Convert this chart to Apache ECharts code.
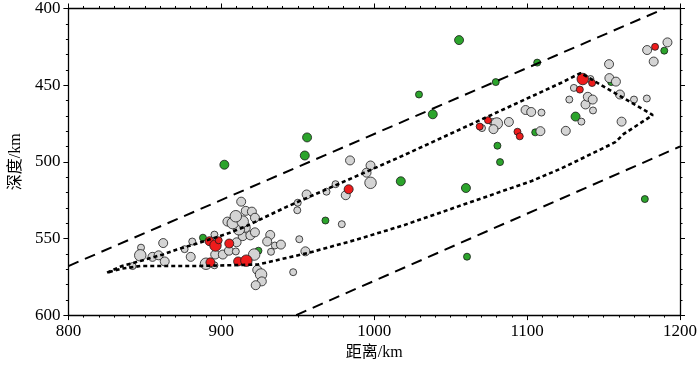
<!DOCTYPE html>
<html><head><meta charset="utf-8">
<script src="https://cdn.jsdelivr.net/npm/echarts@6/dist/echarts.min.js"></script>
<style>html,body{margin:0;padding:0;background:#fff}#c{width:700px;height:366px}</style>
</head><body><div id="c"></div>
<script>
// [distance km, depth km, size class 1..3]
var grayPts = [
[842,568,1],[847.5,556,1],[847,561,3],[855,562,2],[859,561,2],[862,553,2],[863,565,2],
[876,557,1],[881,552,1],[880,562,2],[890,566.5,3],[895.5,567.5,1],[896,560.5,2],[901,560.5,2],
[905,558,2],[909.5,558.5,1],[910,552.5,2],[914,548.5,2],[919,548,2],[922,546,2],[916,543,2],
[911.5,544,3],[895.5,547.5,1],[904,539,2],[907.5,540,3],[914,539,3],[909.5,535.5,3],
[913,526,2],[916,532,2],[920,532.5,2],[922,536.5,2],
[921.5,560.5,3],[923.5,570.5,2],[926,573.5,3],[926.5,578,2],[922.5,580.5,2],
[932,547.7,2],[930,552,2],[935,554.6,1],[939,554,2],[932.5,558.7,1],[955,558.4,2],[951,550.5,1],
[947,572,1],[955.8,521.3,2],[950,526.7,1],[949.7,531.6,1],[968.8,519.5,1],[974.7,514.6,1],
[978.8,540.7,1],[981.4,521.8,2],[984.2,499.1,2],[997.6,502.4,2],[995,507.1,2],[997.6,513.7,3],
[1070.5,478,1],[1077.4,474,1],[1080.2,475,3],[1078,478.7,2],[1088.1,474,2],[1099,466.2,2],
[1102.7,467.5,2],[1109.4,467.9,1],[1108.7,480,2],[1125.3,479.8,2],[1127.6,459.4,1],[1130.6,451.8,1],
[1135.5,473.8,1],[1138.2,462.6,2],[1139.7,457.6,2],[1142.9,459.4,2],[1143.1,466.5,1],[1141.4,446,1],
[1153.6,436.3,2],[1153.8,445.4,2],[1158.1,447.7,2],[1160.7,456.1,2],[1161.8,473.8,2],[1169.9,459.4,1],
[1178.3,458.7,1],[1178.5,427.1,2],[1182.8,434.6,2],[1191.8,422.1,2]
];
var redPts = [
[892.3,551.8,2],[896.2,554.6,3],[898.3,551.2,1],[905.2,553.3,2],[892.9,565.6,2],[911,565,2],
[916.4,564.5,3],[983.3,517.9,2],[1069,477,1],[1074.4,472.9,1],[1093.7,480.4,1],[1095.2,483.4,1],
[1134.5,452.9,1],[1136.4,446,3],[1142.5,448.6,1],[1183.7,425,1]
];
var greenPts = [
[888,549.5,1],[924.3,558,1],[968.1,538.3,1],[902,501.9,2],[954.6,495.9,2],[956.1,484.1,2],
[1017.4,512.7,2],[1029.3,456.1,1],[1038.3,469,2],[1055.5,420.6,2],[1060,517.1,2],[1060.7,561.9,1],
[1079.5,448,1],[1080.6,489.5,1],[1082.3,500.2,1],[1105.3,480.8,1],[1106.6,435.3,1],[1131.7,470.5,2],
[1155,448,1],[1177,524.3,1],[1189.7,427.5,1]
];
var upperDashed = [[800,568],[1190,400]];
var lowerDashed = [[949,600],[1200,490]];
var dottedOutline = [
[825.3,572.3],[835,568],[847,564.7],[862,560.4],[871,557.2],[882,554],[905,546.5],[916,542.1],
[942,529.7],[1019,495.9],[1122,448.6],[1135,442.1],[1182.2,469.5],[1163,482],[1158,487],
[1150,491],[1122,504.5],[1103,512.5],[1090,517],[1019,541.5],[987,551.2],[957,559.4],[924,567],
[884,568],[847,568],[835,569.7],[825.3,572.3]
];
var xTicks = [800, 900, 1000, 1100, 1200];
var yTicks = [400, 450, 500, 550, 600];

var FONT = '"Liberation Serif","Noto Sans CJK SC",serif';
var sizeMap = {1: 7, 2: 9, 3: 11.5};
function sz(v){ return sizeMap[v[2]]; }
function axisBase(extra){
  var a = {
    axisLine:{show:true,onZero:false,lineStyle:{color:'#000',width:1.3}},
    axisTick:{show:true,inside:false,length:5,lineStyle:{color:'#000',width:1}},
    minorTick:{show:true,length:2.5,lineStyle:{color:'#000',width:1}},
    splitLine:{show:false},
    axisLabel:{color:'#000',fontFamily:FONT,fontSize:17,margin:8,formatter:function(v){return String(v);}}
  };
  for (var k in extra) a[k]=extra[k];
  return a;
}
var xb = axisBase({type:'value',position:'bottom',min:xTicks[0],max:xTicks[xTicks.length-1],interval:100,
  name:'距离/km',nameLocation:'middle',nameGap:27,nameTextStyle:{color:'#000',fontFamily:FONT,fontSize:16}});
xb.minorTick.splitNumber = 10;
var xt = axisBase({type:'value',position:'top',min:800,max:1200,interval:100});
xt.minorTick.splitNumber = 10; xt.axisLabel = {show:false};
var yl = axisBase({type:'value',position:'left',inverse:true,min:yTicks[0],max:yTicks[yTicks.length-1],interval:50,
  name:'深度/km',nameLocation:'middle',nameGap:40,nameTextStyle:{color:'#000',fontFamily:FONT,fontSize:16}});
yl.minorTick.splitNumber = 5;
var yr = axisBase({type:'value',position:'right',inverse:true,min:400,max:600,interval:50});
yr.minorTick.splitNumber = 5; yr.axisLabel = {show:false};

function pts(data,color,z){
  return {type:'scatter',data:data,symbol:'circle',symbolSize:sz,z:z,
    itemStyle:{color:color,borderColor:'#1a1a1a',borderWidth:0.8,opacity:1},silent:true};
}
function line(data,dash,w){
  return {type:'line',data:data,showSymbol:false,symbol:'none',z:10,silent:true,
    lineStyle:{color:'#000',width:w,type:dash,cap:'butt'}};
}
var chart = echarts.init(document.getElementById('c'),null,{renderer:'canvas'});
chart.setOption({
  animation:false,
  backgroundColor:'#fff',
  grid:{left:60,right:19,top:8,bottom:48,containLabel:false},
  xAxis:[xb,xt],
  yAxis:[yl,yr],
  series:[
    pts(greenPts,'#2ca42c',3),
    pts(grayPts,'#d4d4d4',4),
    pts(redPts,'#ee1c1c',5),
    line(upperDashed,[11,7],2),
    line(lowerDashed,[11,7],2),
    line(dottedOutline,[4,3],2.6)
  ]
});
</script></body></html>
